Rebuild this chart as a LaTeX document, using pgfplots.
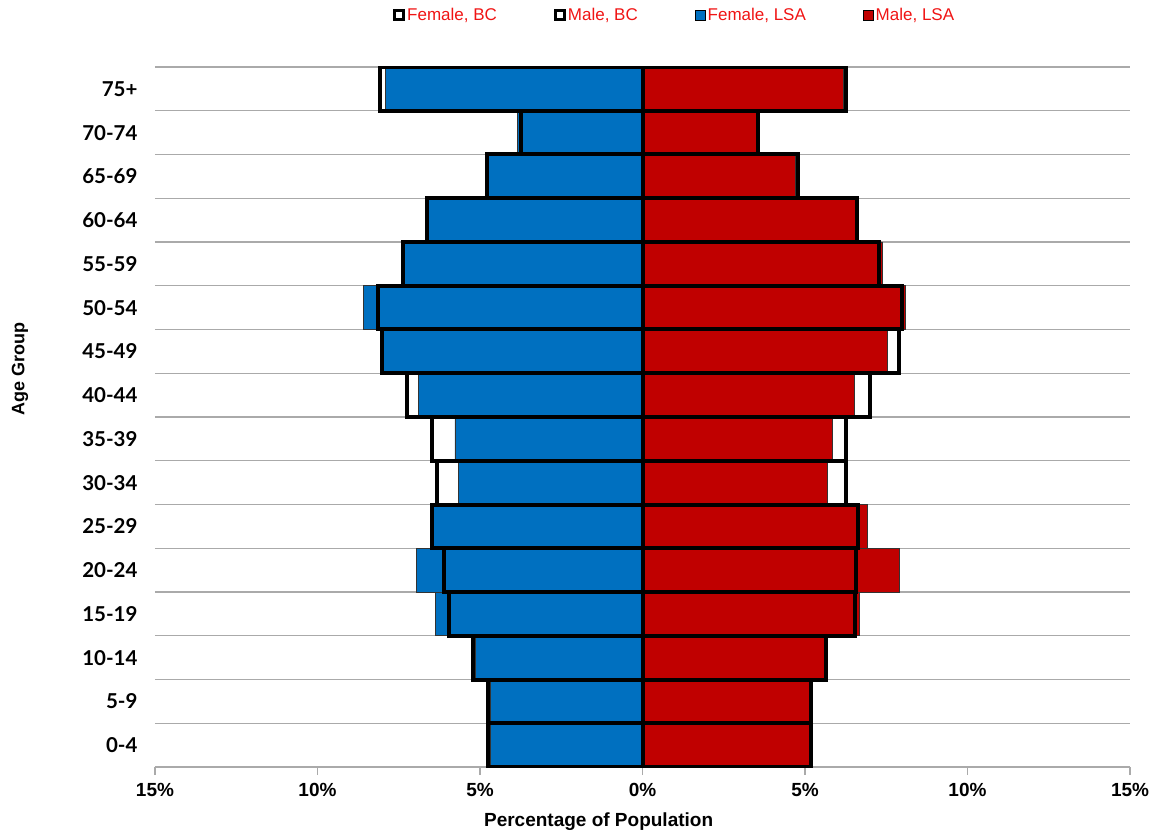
\documentclass[border=0pt]{standalone}
\usepackage{fontspec}
\setmainfont{Liberation Sans}
\newfontfamily\latofont{Lato}
\usepackage{pgfplots}
\pgfplotsset{compat=1.18}
\definecolor{lsablue}{RGB}{0,112,192}
\definecolor{lsared}{RGB}{192,0,0}
\definecolor{gridgray}{RGB}{170,170,170}
\definecolor{legred}{RGB}{240,20,20}
\begin{document}
\begin{tikzpicture}
\begin{axis}[
  scale only axis, width=975pt, height=700pt,
  xmin=-15, xmax=15, ymin=-0.5, ymax=15.5,
  xbar, bar width=1, bar shift=0pt,
  xtick={-15,-10,...,15},
  xticklabels={15\%,10\%,5\%,0\%,5\%,10\%,15\%},
  x tick label style={font=\fontsize{19}{21}\selectfont\bfseries, yshift=-5pt},
  ytick={0,...,15},
  yticklabels={0-4,5-9,10-14,15-19,20-24,25-29,30-34,35-39,40-44,45-49,50-54,55-59,60-64,65-69,70-74,75+},
  y tick label style={font=\fontsize{20.5}{22}\selectfont\latofont\bfseries, xshift=-6pt},
  minor ytick={0.5,1.5,...,15.5},
  yminorgrids=true,
  minor grid style={draw=gridgray, line width=1.3pt},
  axis x line*=bottom, axis y line*=left,
  y axis line style={draw=none},
  x axis line style={draw=gridgray, line width=1.3pt},
  tick align=outside,
  major tick length=8pt, minor tick length=0pt,
  x tick style={draw=gridgray, line width=1.3pt},
  y tick style={draw=none},
  xlabel={\textbf{Percentage of Population}},
  xlabel style={font=\fontsize{19}{21}\selectfont, at={(axis description cs:0.455,-0.0786)}, anchor=center},
  ylabel={\textbf{Age Group}},
  ylabel style={font=\fontsize{18}{20}\selectfont, at={(axis description cs:-0.1385,0.569)}, anchor=center},
  legend columns=4,
  legend style={draw=none, fill=none, font=\fontsize{17}{19}\selectfont, text=legred,
    at={(axis description cs:0.533,1.074)}, anchor=center,
    /tikz/every even column/.append style={column sep=55pt}},
  legend cell align=left,
]
\addlegendimage{legend image code/.code={\draw[black, line width=3pt, fill=white] (0pt,-4.5pt) rectangle (9pt,4.5pt);}}
\addlegendentry{Female, BC}
\addlegendimage{legend image code/.code={\draw[black, line width=3pt, fill=white] (0pt,-4.5pt) rectangle (9pt,4.5pt);}}
\addlegendentry{Male, BC}
\addlegendimage{legend image code/.code={\draw[black, line width=0.8pt, fill=lsablue] (0pt,-5pt) rectangle (10pt,5pt);}}
\addlegendentry{Female, LSA}
\addlegendimage{legend image code/.code={\draw[black, line width=0.8pt, fill=lsared] (0pt,-5pt) rectangle (10pt,5pt);}}
\addlegendentry{Male, LSA}

% Female, LSA
\addplot[forget plot, draw=black!80, line width=0.8pt, fill=lsablue] coordinates {
(-4.68,0) (-4.68,1) (-5.13,2) (-6.37,3) (-6.95,4) (-6.42,5) (-5.67,6) (-5.77,7)
(-6.89,8) (-7.97,9) (-8.59,10) (-7.35,11) (-6.58,12) (-4.75,13) (-3.85,14) (-7.91,15)};
% Male, LSA
\addplot[forget plot, draw=black!80, line width=0.8pt, fill=lsared] coordinates {
(5.15,0) (5.15,1) (5.60,2) (6.66,3) (7.89,4) (6.92,5) (5.69,6) (5.83,7)
(6.53,8) (7.53,9) (8.10,10) (7.38,11) (6.54,12) (4.70,13) (3.50,14) (6.19,15)};
% Female, BC
\addplot[forget plot, draw=black, line width=4pt, fill=none] coordinates {
(-4.75,0) (-4.75,1) (-5.21,2) (-5.95,3) (-6.11,4) (-6.49,5) (-6.31,6) (-6.49,7)
(-7.24,8) (-8.02,9) (-8.13,10) (-7.38,11) (-6.63,12) (-4.80,13) (-3.73,14) (-8.08,15)};
% Male, BC
\addplot[forget plot, draw=black, line width=4pt, fill=none] coordinates {
(5.19,0) (5.19,1) (5.64,2) (6.53,3) (6.58,4) (6.63,5) (6.26,6) (6.26,7)
(6.99,8) (7.89,9) (7.97,10) (7.28,11) (6.59,12) (4.77,13) (3.55,14) (6.26,15)};
\coordinate (pbl) at (rel axis cs:0,0);
\coordinate (ptr) at (rel axis cs:1,1);
\end{axis}
\pgfresetboundingbox
\path[use as bounding box] ([shift={(-155pt,-69pt)}]pbl) rectangle ([shift={(28pt,67pt)}]ptr);
\end{tikzpicture}
\end{document}
